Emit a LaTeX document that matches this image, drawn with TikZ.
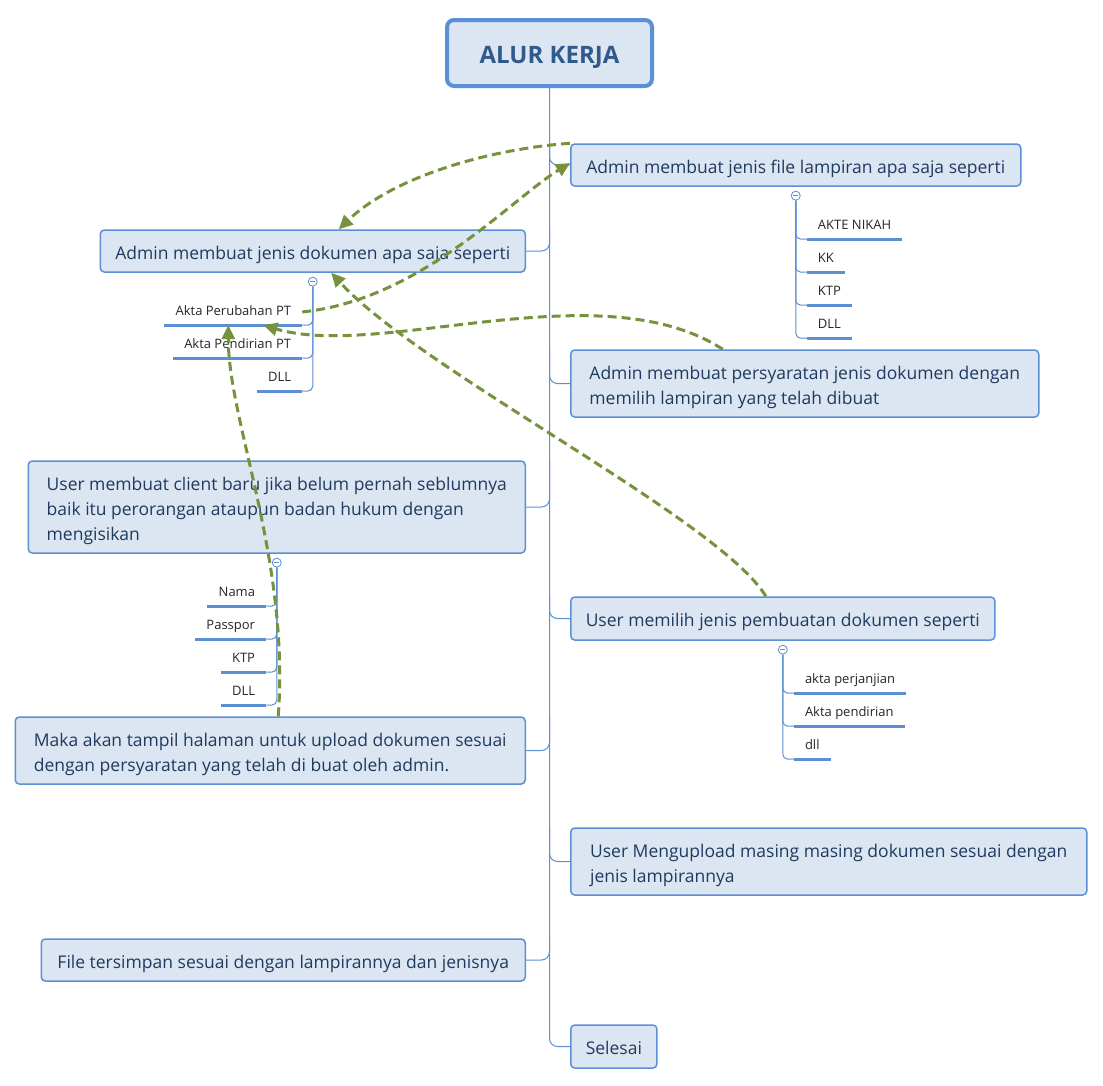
\documentclass[tikz,border=0pt]{standalone}
\usepackage{fontspec}
\setmainfont{Open Sans}
\usetikzlibrary{positioning,calc,arrows.meta}

\definecolor{topicfill}{HTML}{DCE6F2}
\definecolor{topicdraw}{HTML}{5B8FD6}
\definecolor{topictext}{HTML}{1F3A5F}
\definecolor{titletext}{HTML}{30598C}
\definecolor{linecol}{HTML}{5B8FD2}
\definecolor{linkcol}{HTML}{76923C}

% several lines in one topic
\newcommand{\topiclines}[1]{\begin{tabular}{@{}l@{}}\rule{0pt}{23.5pt}#1\end{tabular}\hspace{8pt}}

\tikzset{
  topic/.style={draw=topicdraw, line width=1.5pt, fill=topicfill, rounded corners=4pt,
    text=topictext, inner xsep=15pt, inner ysep=0pt,
    font=\fontsize{17.5}{25}\selectfont,
    execute at begin node={\rule{0pt}{23.5pt}},
    execute at end node={\rule[-7.5pt]{0pt}{7.5pt}}},
  item/.style={inner xsep=11pt, inner ysep=6.5pt, text height=10pt, text depth=3pt,
    text=black!85, font=\fontsize{13}{15}\selectfont},
  uline/.style={draw=linecol, line width=3pt},
  branch/.style={draw=linecol, line width=1pt, rounded corners=8pt},
  toggle/.style={circle, draw=linecol, fill=white, line width=0.8pt, inner sep=0pt,
    minimum size=9pt,
    path picture={\draw[linecol, line width=0.8pt]
      ([xshift=2pt]path picture bounding box.west) --
      ([xshift=-2pt]path picture bounding box.east);}},
  link/.style={draw=linkcol, line width=3pt, dash pattern=on 9pt off 5pt,
    -{Triangle[length=14pt,width=13pt]}}
}

\begin{document}
\begin{tikzpicture}[x=1pt, y=-1pt]
  \path[use as bounding box, fill=white] (0,0) rectangle (1103,1085);

  \node (title) [topic, line width=4pt, rounded corners=7pt, minimum width=205pt,
    minimum height=66pt, text=titletext, font=\fontsize{24}{28}\selectfont\bfseries,
    execute at begin node={\rule{0pt}{29pt}},
    execute at end node={\rule[-7pt]{0pt}{7pt}}]
    at (549.5,53) {ALUR KERJA};

  % topics right and left of the spine
  \node (r1) [topic, anchor=west, minimum width=450pt, minimum height=42pt] at (570,165)
    {Admin membuat jenis file lampiran apa saja seperti};
  \node (l1) [topic, anchor=east, minimum width=425pt, minimum height=42pt] at (526,251)
    {Admin membuat jenis dokumen apa saja seperti};
  \node (r2) [topic, anchor=west, minimum width=468pt, minimum height=67pt] at (570,383.5)
    {\topiclines{Admin membuat persyaratan jenis dokumen dengan\\memilih lampiran yang telah dibuat}};
  \node (l2) [topic, anchor=east, minimum width=497pt, minimum height=92pt] at (526,507)
    {\topiclines{User membuat client baru jika belum pernah seblumnya\\baik itu perorangan ataupun badan hukum dengan\\mengisikan}};
  \node (r3) [topic, anchor=west, minimum width=423pt, minimum height=43pt] at (570,618.5)
    {User memilih jenis pembuatan dokumen seperti};
  \node (l3) [topic, anchor=east, minimum width=510pt, minimum height=67pt] at (526,750.5)
    {\topiclines{Maka akan tampil halaman untuk upload dokumen sesuai\\dengan persyaratan yang telah di buat oleh admin.}};
  \node (r4) [topic, anchor=west, minimum width=516pt, minimum height=67pt] at (570,861.5)
    {\topiclines{User Mengupload masing masing dokumen sesuai dengan\\jenis lampirannya}};
  \node (l4) [topic, anchor=east, minimum width=484pt, minimum height=42pt] at (526,960)
    {File tersimpan sesuai dengan lampirannya dan jenisnya};
  \node (sel) [topic, anchor=west, minimum width=84pt, minimum height=43pt] at (570,1046.5)
    {Selesai};

  % spine
  \path[branch] (title.south) |- (sel.west);
  \foreach \n in {r1,r2,r3,r4}
    \path[branch] (title.south |- \n.north) |- (\n.west);
  \foreach \n in {l1,l2,l3,l4}
    \path[branch] (title.south |- \n.north) |- (\n.east);

  % sub lists
  \node (c1) [toggle, below=4pt of r1] {};
  \foreach \t [count=\i] in {AKTE NIKAH, KK, KTP, DLL} {
    \node (ft\i) [item, anchor=south west] at ($(c1)+(11,10.5+33*\i)$) {\t};
    \path[uline] (ft\i.south west) -- (ft\i.south east);
    \path[branch, rounded corners=5pt] (c1.south) |- (ft\i.south west);
  }
  \node (c2) [toggle, below=4pt of l1] {};
  \foreach \t [count=\i] in {Akta Perubahan PT, Akta Pendirian PT, DLL} {
    \node (dk\i) [item, anchor=south east] at ($(c2)+(-10.5,10.5+33*\i)$) {\t};
    \path[uline] (dk\i.south west) -- (dk\i.south east);
    \path[branch, rounded corners=5pt] (c2.south) |- (dk\i.south east);
  }
  \node (c3) [toggle, below=4pt of l2] {};
  \foreach \t [count=\i] in {Nama, Passpor, KTP, DLL} {
    \node (cl\i) [item, anchor=south east] at ($(c3)+(-10.5,10.5+33*\i)$) {\t};
    \path[uline] (cl\i.south west) -- (cl\i.south east);
    \path[branch, rounded corners=5pt] (c3.south) |- (cl\i.south east);
  }
  \node (c4) [toggle, below=4pt of r3] {};
  \foreach \t [count=\i] in {akta perjanjian, Akta pendirian, dll} {
    \node (jp\i) [item, anchor=south west] at ($(c4)+(11,10.5+33*\i)$) {\t};
    \path[uline] (jp\i.south west) -- (jp\i.south east);
    \path[branch, rounded corners=5pt] (c4.south) |- (jp\i.south west);
  }

  % relations
  \draw[link] (r1.north west) .. controls (480,150) and (390,180) .. ([xshift=26pt]l1.north);
  \draw[link] (dk1.east) .. controls (420,300) and (510,200) .. ([yshift=2pt]r1.west);
  \draw[link] ([xshift=-82pt]r2.north) .. controls (600,270) and (380,360) .. ([xshift=30pt]dk1.south);
  \draw[link] ([xshift=-17pt]r3.north) .. controls (720,520) and (420,370) .. ([xshift=18.5pt]l1.south);
  \draw[link] ([xshift=8pt]l3.north) .. controls (290,560) and (228,420) .. ([xshift=-5pt]dk1.south);
\end{tikzpicture}
\end{document}
